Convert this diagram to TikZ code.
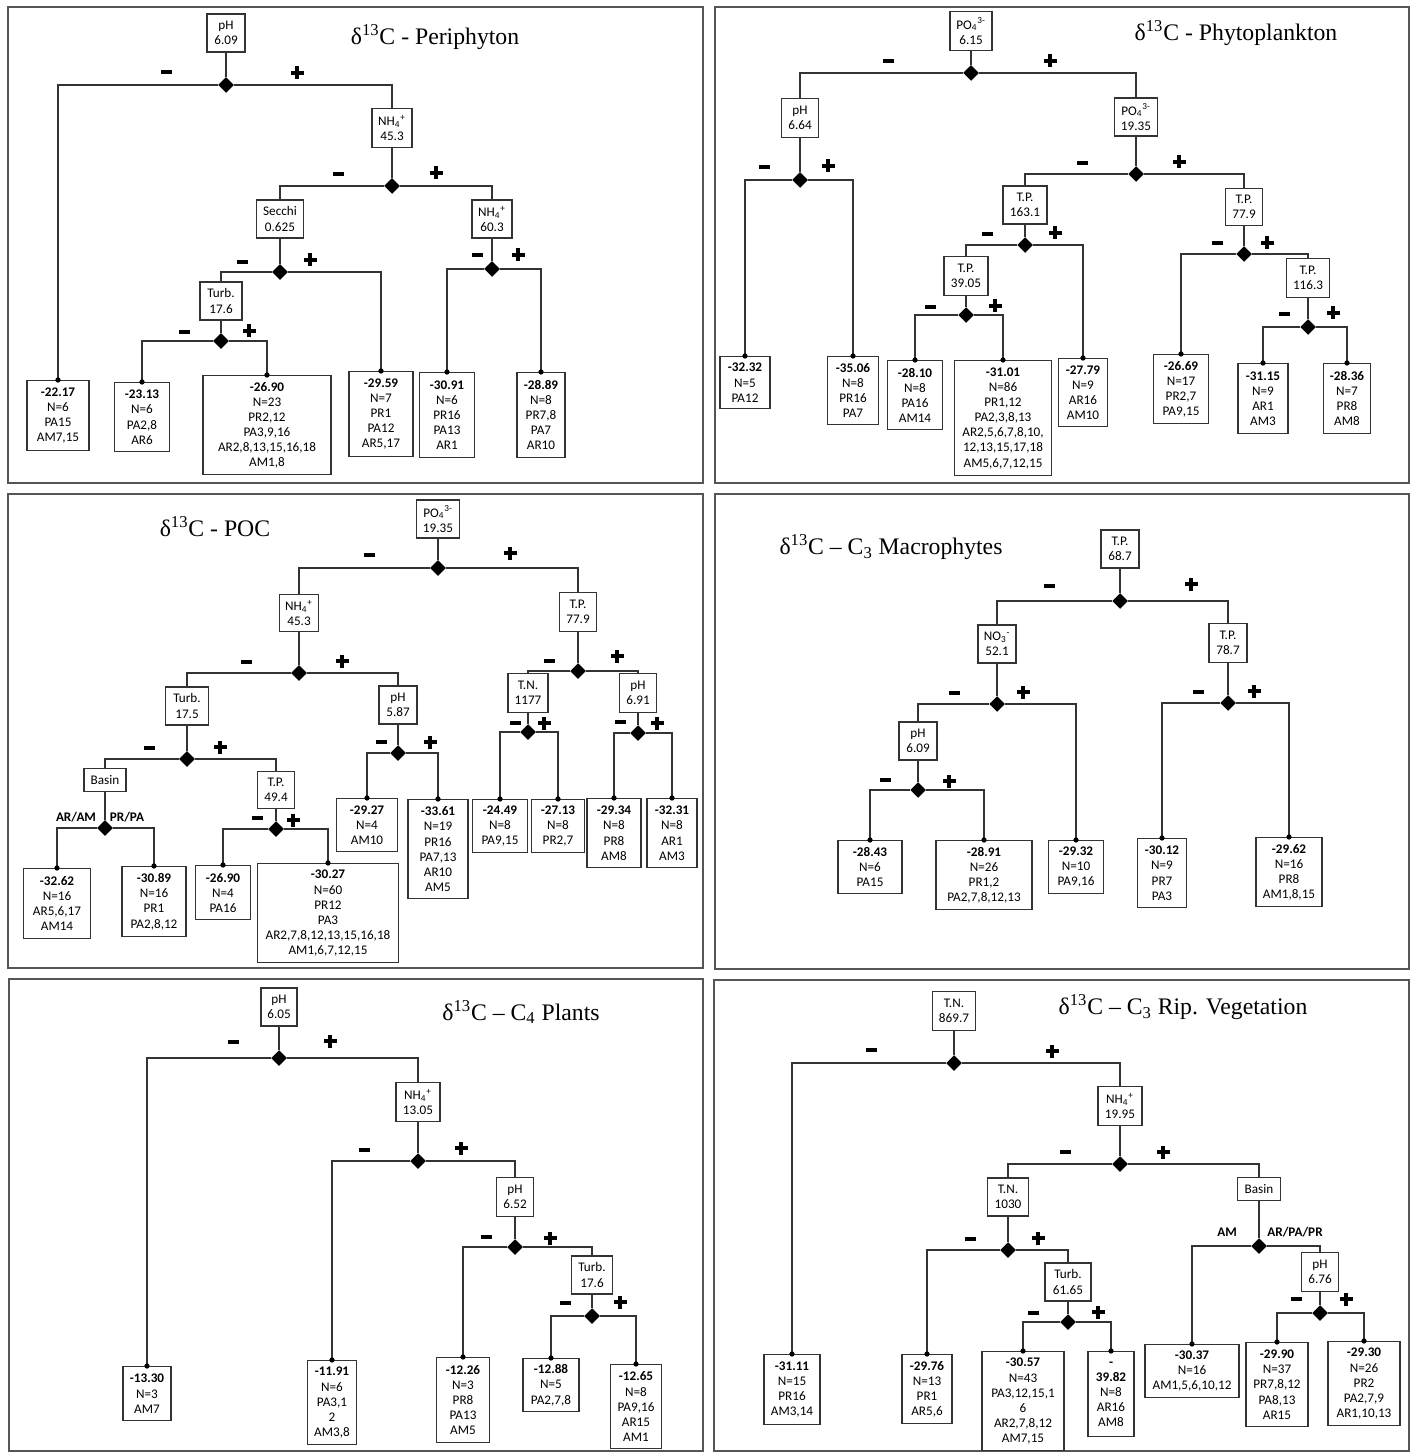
\documentclass[tikz,border=0pt]{standalone}
\usepackage{fontspec}
\setmainfont{Liberation Serif}
\newfontfamily\boxf{Carlito}
\usetikzlibrary{shapes.geometric}
\definecolor{linec}{HTML}{333333}
\definecolor{panelc}{HTML}{555555}
\tikzset{
  split/.style={draw=linec, line width=0.8pt, fill=white, align=center, inner sep=1pt,
    font=\boxf\fontsize{7.5}{8.6}\selectfont},
  leaf/.style={split, anchor=north},
  sz/.style 2 args={minimum width={#1*0.02cm}, minimum height={#2*0.02cm}},
  dia/.style={diamond, fill=black, inner sep=0pt, minimum size=9pt},
  conn/.style={draw=linec, line width=0.8pt},
  ttl/.style={font=\fontsize{13.5}{16}\selectfont},
  blab/.style={font=\boxf\bfseries\fontsize{7.5}{8.6}\selectfont, inner sep=0pt},
  plussign/.pic={\fill[black] (-6.5,-2.2) rectangle (6.5,2.2); \fill[black] (-2.2,-6.5) rectangle (2.2,6.5);},
  minussign/.pic={\fill[black] (-5.5,-2.2) rectangle (5.5,2.2);}
}
\begin{document}
\begin{tikzpicture}[x=0.02cm,y=-0.02cm]
\useasboundingbox (0,0) rectangle (1414,1452);
\fill[white] (0,0) rectangle (1414,1452);
% panels
\draw[panelc, line width=0.9pt] (8,7) rectangle (703,483);
\draw[panelc, line width=0.9pt] (715,7) rectangle (1409,483);
\draw[panelc, line width=0.9pt] (8,494) rectangle (703,968);
\draw[panelc, line width=0.9pt] (715,494) rectangle (1409,969);
\draw[panelc, line width=0.9pt] (9,979) rectangle (703,1451);
\draw[panelc, line width=0.9pt] (714,980) rectangle (1409,1451);

% ================= Panel 1: Periphyton
\node[ttl] (t1) at (435,37) {δ\textsuperscript{13}C - Periphyton};
\node[split,sz={38}{38}] (p1a) at (226,33) {pH\\6.09};
\node[dia] (p1ad) at (226,85) {};
\node[leaf,sz={62}{70}] (p1l1) at (58,380) {\textbf{-22.17}\\N=6\\PA15\\AM7,15};
\node[split,sz={40}{39}] (p1b) at (392,128) {NH\textsubscript{4}\textsuperscript{+}\\45.3};
\node[dia] (p1bd) at (392,186) {};
\node[split,sz={47}{38}] (p1c) at (280,219) {Secchi\\0.625};
\node[dia] (p1cd) at (280,272) {};
\node[split,sz={42}{38}] (p1e) at (221,301) {Turb.\\17.6};
\node[dia] (p1ed) at (221,341) {};
\node[leaf,sz={55}{69}] (p1l2) at (142,382) {\textbf{-23.13}\\N=6\\PA2,8\\AR6};
\node[leaf,sz={128}{99}] (p1l3) at (267,375) {\textbf{-26.90}\\N=23\\PR2,12\\PA3,9,16\\AR2,8,13,15,16,18\\AM1,8};
\node[leaf,sz={64}{85}] (p1l4) at (381,371) {\textbf{-29.59}\\N=7\\PR1\\PA12\\AR5,17};
\node[split,sz={40}{38}] (p1f) at (492,219) {NH\textsubscript{4}\textsuperscript{+}\\60.3};
\node[dia] (p1fd) at (492,269) {};
\node[leaf,sz={55}{85}] (p1l5) at (447,372) {\textbf{-30.91}\\N=6\\PR16\\PA13\\AR1};
\node[leaf,sz={48}{85}] (p1l6) at (541,372) {\textbf{-28.89}\\N=8\\PR7,8\\PA7\\AR10};
\draw[conn] (p1a)--(p1ad); \draw[conn] (p1ad) -| (p1l1.north); \draw[conn] (p1ad) -| (p1b.north);
\draw[conn] (p1b)--(p1bd); \draw[conn] (p1bd) -| (p1c.north); \draw[conn] (p1bd) -| (p1f.north);
\draw[conn] (p1c)--(p1cd); \draw[conn] (p1cd) -| (p1e.north); \draw[conn] (p1cd) -| (p1l4.north);
\draw[conn] (p1e)--(p1ed); \draw[conn] (p1ed) -| (p1l2.north); \draw[conn] (p1ed) -| (p1l3.north);
\draw[conn] (p1f)--(p1fd); \draw[conn] (p1fd) -| (p1l5.north); \draw[conn] (p1fd) -| (p1l6.north);
\pic at (166,72) {minussign}; \pic at (297,73) {plussign};
\pic at (338,174) {minussign}; \pic at (436,173) {plussign};
\pic at (242,262) {minussign}; \pic at (310,260) {plussign};
\pic at (184,332) {minussign}; \pic at (249,331) {plussign};
\pic at (477,255) {minussign}; \pic at (518,255) {plussign};

% ================= Panel 2: Phytoplankton
\node[ttl] (t2) at (1236,33) {δ\textsuperscript{13}C - Phytoplankton};
\node[split,sz={42}{39}] (p2a) at (971,31) {PO\textsubscript{4}\textsuperscript{3-}\\6.15};
\node[dia] (p2ad) at (971,73) {};
\node[split,sz={37}{39}] (p2b) at (800,118) {pH\\6.64};
\node[dia] (p2bd) at (800,180) {};
\node[leaf,sz={50}{52}] (p2l1) at (745,356) {\textbf{-32.32}\\N=5\\PA12};
\node[leaf,sz={51}{68}] (p2l2) at (853,356) {\textbf{-35.06}\\N=8\\PR16\\PA7};
\node[split,sz={43}{38}] (p2c) at (1136,117) {PO\textsubscript{4}\textsuperscript{3-}\\19.35};
\node[dia] (p2cd) at (1136,174) {};
\node[split,sz={44}{38}] (p2e) at (1025,205) {T.P.\\163.1};
\node[dia] (p2ed) at (1025,245) {};
\node[split,sz={44}{39}] (p2f) at (966,276) {T.P.\\39.05};
\node[dia] (p2fd) at (966,315) {};
\node[leaf,sz={55}{69}] (p2l3) at (915,360) {\textbf{-28.10}\\N=8\\PA16\\AM14};
\node[leaf,sz={97}{115}] (p2l4) at (1003,360) {\textbf{-31.01}\\N=86\\PR1,12\\PA2,3,8,13\\AR2,5,6,7,8,10,\\12,13,15,17,18\\AM5,6,7,12,15};
\node[leaf,sz={49}{68}] (p2l5) at (1083,358) {\textbf{-27.79}\\N=9\\AR16\\AM10};
\node[split,sz={37}{37}] (p2g) at (1244,207) {T.P.\\77.9};
\node[dia] (p2gd) at (1244,254) {};
\node[leaf,sz={55}{69}] (p2l6) at (1181,354) {\textbf{-26.69}\\N=17\\PR2,7\\PA9,15};
\node[split,sz={43}{39}] (p2h) at (1308,278) {T.P.\\116.3};
\node[dia] (p2hd) at (1308,327) {};
\node[leaf,sz={50}{70}] (p2l7) at (1263,363) {\textbf{-31.15}\\N=9\\AR1\\AM3};
\node[leaf,sz={47}{70}] (p2l8) at (1347,363) {\textbf{-28.36}\\N=7\\PR8\\AM8};
\draw[conn] (p2a)--(p2ad); \draw[conn] (p2ad) -| (p2b.north); \draw[conn] (p2ad) -| (p2c.north);
\draw[conn] (p2b)--(p2bd); \draw[conn] (p2bd) -| (p2l1.north); \draw[conn] (p2bd) -| (p2l2.north);
\draw[conn] (p2c)--(p2cd); \draw[conn] (p2cd) -| (p2e.north); \draw[conn] (p2cd) -| (p2g.north);
\draw[conn] (p2e)--(p2ed); \draw[conn] (p2ed) -| (p2f.north); \draw[conn] (p2ed) -| (p2l5.north);
\draw[conn] (p2f)--(p2fd); \draw[conn] (p2fd) -| (p2l3.north); \draw[conn] (p2fd) -| (p2l4.north);
\draw[conn] (p2g)--(p2gd); \draw[conn] (p2gd) -| (p2l6.north); \draw[conn] (p2gd) -| (p2h.north);
\draw[conn] (p2h)--(p2hd); \draw[conn] (p2hd) -| (p2l7.north); \draw[conn] (p2hd) -| (p2l8.north);
\pic at (888,61) {minussign}; \pic at (1050,61) {plussign};
\pic at (764,167) {minussign}; \pic at (828,166) {plussign};
\pic at (1082,163) {minussign}; \pic at (1179,162) {plussign};
\pic at (987,234) {minussign}; \pic at (1055,233) {plussign};
\pic at (930,307) {minussign}; \pic at (995,306) {plussign};
\pic at (1217,243) {minussign}; \pic at (1267,243) {plussign};
\pic at (1284,314) {minussign}; \pic at (1333,313) {plussign};

% ================= Panel 3: POC
\node[ttl] (t3) at (215,527) {δ\textsuperscript{13}C - POC};
\node[split,sz={43}{38}] (p3a) at (438,519) {PO\textsubscript{4}\textsuperscript{3-}\\19.35};
\node[dia] (p3ad) at (438,568) {};
\node[split,sz={39}{37}] (p3b) at (299,613) {NH\textsubscript{4}\textsuperscript{+}\\45.3};
\node[dia] (p3bd) at (299,673) {};
\node[split,sz={43}{38}] (p3c) at (187,706) {Turb.\\17.5};
\node[dia] (p3cd) at (187,759) {};
\node[split,sz={42}{23}] (p3e) at (105,780) {Basin};
\node[dia] (p3ed) at (105,828) {};
\node[leaf,sz={67}{70}] (p3l1) at (57,868) {\textbf{-32.62}\\N=16\\AR5,6,17\\AM14};
\node[leaf,sz={64}{70}] (p3l2) at (154,866) {\textbf{-30.89}\\N=16\\PR1\\PA2,8,12};
\node[split,sz={37}{37}] (p3f) at (276,790) {T.P.\\49.4};
\node[dia] (p3fd) at (276,829) {};
\node[leaf,sz={55}{54}] (p3l3) at (223,865) {\textbf{-26.90}\\N=4\\PA16};
\node[leaf,sz={141}{99}] (p3l4) at (328,863) {\textbf{-30.27}\\N=60\\PR12\\PA3\\AR2,7,8,12,13,15,16,18\\AM1,6,7,12,15};
\node[split,sz={38}{38}] (p3g) at (398,705) {pH\\5.87};
\node[dia] (p3gd) at (398,753) {};
\node[leaf,sz={61}{53}] (p3l5) at (367,798) {\textbf{-29.27}\\N=4\\AM10};
\node[leaf,sz={60}{99}] (p3l6) at (438,799) {\textbf{-33.61}\\N=19\\PR16\\PA7,13\\AR10\\AM5};
\node[split,sz={37}{39}] (p3h) at (578,612) {T.P.\\77.9};
\node[dia] (p3hd) at (578,671) {};
\node[split,sz={40}{39}] (p3i) at (528,693) {T.N.\\1177};
\node[dia] (p3id) at (528,732) {};
\node[leaf,sz={55}{53}] (p3l7) at (500,799) {\textbf{-24.49}\\N=8\\PA9,15};
\node[leaf,sz={53}{53}] (p3l8) at (558,799) {\textbf{-27.13}\\N=8\\PR2,7};
\node[split,sz={37}{39}] (p3j) at (638,693) {pH\\6.91};
\node[dia] (p3jd) at (638,733) {};
\node[leaf,sz={54}{69}] (p3l9) at (614,798) {\textbf{-29.34}\\N=8\\PR8\\AM8};
\node[leaf,sz={50}{69}] (p3l10) at (672,798) {\textbf{-32.31}\\N=8\\AR1\\AM3};
\draw[conn] (p3a)--(p3ad); \draw[conn] (p3ad) -| (p3b.north); \draw[conn] (p3ad) -| (p3h.north);
\draw[conn] (p3b)--(p3bd); \draw[conn] (p3bd) -| (p3c.north); \draw[conn] (p3bd) -| (p3g.north);
\draw[conn] (p3c)--(p3cd); \draw[conn] (p3cd) -| (p3e.north); \draw[conn] (p3cd) -| (p3f.north);
\draw[conn] (p3e)--(p3ed); \draw[conn] (p3ed) -| (p3l1.north); \draw[conn] (p3ed) -| (p3l2.north);
\draw[conn] (p3f)--(p3fd); \draw[conn] (p3fd) -| (p3l3.north); \draw[conn] (p3fd) -| (p3l4.north);
\draw[conn] (p3g)--(p3gd); \draw[conn] (p3gd) -| (p3l5.north); \draw[conn] (p3gd) -| (p3l6.north);
\draw[conn] (p3h)--(p3hd); \draw[conn] (p3hd) -| (p3i.north); \draw[conn] (p3hd) -| (p3j.north);
\draw[conn] (p3i)--(p3id); \draw[conn] (p3id) -| (p3l7.north); \draw[conn] (p3id) -| (p3l8.north);
\draw[conn] (p3j)--(p3jd); \draw[conn] (p3jd) -| (p3l9.north); \draw[conn] (p3jd) -| (p3l10.north);
\node[blab] (p3s1) at (76,817) {AR/AM};
\node[blab] (p3s2) at (127,817) {PR/PA};
\pic at (369,555) {minussign}; \pic at (510,553) {plussign};
\pic at (246,662) {minussign}; \pic at (342,661) {plussign};
\pic at (149,748) {minussign}; \pic at (220,747) {plussign};
\pic at (257,818) {minussign}; \pic at (293,820) {plussign};
\pic at (381,742) {minussign}; \pic at (430,742) {plussign};
\pic at (549,661) {minussign}; \pic at (617,656) {plussign};
\pic at (515,723) {minussign}; \pic at (544,723) {plussign};
\pic at (620,722) {minussign}; \pic at (657,723) {plussign};

% ================= Panel 4: C3 Macrophytes
\node[ttl] (t4) at (891,547) {δ\textsuperscript{13}C \textendash{} C\textsubscript{3} Macrophytes};
\node[split,sz={38}{38}] (p4a) at (1120,549) {T.P.\\68.7};
\node[dia] (p4ad) at (1120,601) {};
\node[split,sz={38}{38}] (p4b) at (997,644) {NO\textsubscript{3}\textsuperscript{-}\\52.1};
\node[dia] (p4bd) at (997,704) {};
\node[split,sz={38}{38}] (p4c) at (918,741) {pH\\6.09};
\node[dia] (p4cd) at (918,790) {};
\node[leaf,sz={64}{53}] (p4l1) at (870,840) {\textbf{-28.43}\\N=6\\PA15};
\node[leaf,sz={96}{69}] (p4l2) at (984,840) {\textbf{-28.91}\\N=26\\PR1,2\\PA2,7,8,12,13};
\node[leaf,sz={55}{53}] (p4l3) at (1076,840) {\textbf{-29.32}\\N=10\\PA9,16};
\node[split,sz={38}{39}] (p4e) at (1228,643) {T.P.\\78.7};
\node[dia] (p4ed) at (1228,703) {};
\node[leaf,sz={49}{69}] (p4l4) at (1162,838) {\textbf{-30.12}\\N=9\\PR7\\PA3};
\node[leaf,sz={66}{69}] (p4l5) at (1289,837) {\textbf{-29.62}\\N=16\\PR8\\AM1,8,15};
\draw[conn] (p4a)--(p4ad); \draw[conn] (p4ad) -| (p4b.north); \draw[conn] (p4ad) -| (p4e.north);
\draw[conn] (p4b)--(p4bd); \draw[conn] (p4bd) -| (p4c.north); \draw[conn] (p4bd) -| (p4l3.north);
\draw[conn] (p4c)--(p4cd); \draw[conn] (p4cd) -| (p4l1.north); \draw[conn] (p4cd) -| (p4l2.north);
\draw[conn] (p4e)--(p4ed); \draw[conn] (p4ed) -| (p4l4.north); \draw[conn] (p4ed) -| (p4l5.north);
\pic at (1049,586) {minussign}; \pic at (1191,584) {plussign};
\pic at (954,693) {minussign}; \pic at (1023,692) {plussign};
\pic at (885,780) {minussign}; \pic at (949,781) {plussign};
\pic at (1198,692) {minussign}; \pic at (1254,691) {plussign};

% ================= Panel 5: C4 Plants
\node[ttl] (t5) at (521,1012) {δ\textsuperscript{13}C \textendash{} C\textsubscript{4} Plants};
\node[split,sz={36}{38}] (p5a) at (279,1007) {pH\\6.05};
\node[dia] (p5ad) at (279,1058) {};
\node[leaf,sz={48}{54}] (p5l1) at (147,1366) {\textbf{-13.30}\\N=3\\AM7};
\node[split,sz={44}{39}] (p5b) at (418,1102) {NH\textsubscript{4}\textsuperscript{+}\\13.05};
\node[dia] (p5bd) at (418,1161) {};
\node[leaf,sz={49}{84}] (p5l2) at (332,1360) {\textbf{-11.91}\\N=6\\PA3,1\\2\\AM3,8};
\node[split,sz={37}{39}] (p5c) at (515,1197) {pH\\6.52};
\node[dia] (p5cd) at (515,1247) {};
\node[leaf,sz={53}{85}] (p5l3) at (463,1357) {\textbf{-12.26}\\N=3\\PR8\\PA13\\AM5};
\node[split,sz={41}{38}] (p5e) at (592,1275) {Turb.\\17.6};
\node[dia] (p5ed) at (592,1316) {};
\node[leaf,sz={56}{53}] (p5l4) at (551,1358) {\textbf{-12.88}\\N=5\\PA2,7,8};
\node[leaf,sz={51}{84}] (p5l5) at (636,1364) {\textbf{-12.65}\\N=8\\PA9,16\\AR15\\AM1};
\draw[conn] (p5a)--(p5ad); \draw[conn] (p5ad) -| (p5l1.north); \draw[conn] (p5ad) -| (p5b.north);
\draw[conn] (p5b)--(p5bd); \draw[conn] (p5bd) -| (p5l2.north); \draw[conn] (p5bd) -| (p5c.north);
\draw[conn] (p5c)--(p5cd); \draw[conn] (p5cd) -| (p5l3.north); \draw[conn] (p5cd) -| (p5e.north);
\draw[conn] (p5e)--(p5ed); \draw[conn] (p5ed) -| (p5l4.north); \draw[conn] (p5ed) -| (p5l5.north);
\pic at (233,1042) {minussign}; \pic at (330,1041) {plussign};
\pic at (364,1150) {minussign}; \pic at (461,1148) {plussign};
\pic at (486,1237) {minussign}; \pic at (550,1238) {plussign};
\pic at (565,1303) {minussign}; \pic at (620,1302) {plussign};

% ================= Panel 6: C3 Rip. Vegetation
\node[ttl] (t6) at (1183,1007) {δ\textsuperscript{13}C \textendash{} C\textsubscript{3} Rip. Vegetation};
\node[split,sz={43}{39}] (p6a) at (954,1011) {T.N.\\869.7};
\node[dia] (p6ad) at (954,1063) {};
\node[leaf,sz={56}{70}] (p6l1) at (792,1354) {\textbf{-31.11}\\N=15\\PR16\\AM3,14};
\node[split,sz={44}{39}] (p6b) at (1120,1106) {NH\textsubscript{4}\textsuperscript{+}\\19.95};
\node[dia] (p6bd) at (1120,1164) {};
\node[split,sz={41}{38}] (p6c) at (1008,1197) {T.N.\\1030};
\node[dia] (p6cd) at (1008,1250) {};
\node[leaf,sz={50}{69}] (p6l2) at (927,1354) {\textbf{-29.76}\\N=13\\PR1\\AR5,6};
\node[split,sz={46}{38}] (p6e) at (1068,1282) {Turb.\\61.65};
\node[dia] (p6ed) at (1068,1322) {};
\node[leaf,sz={82}{99}] (p6l3) at (1023,1351) {\textbf{-30.57}\\N=43\\PA3,12,15,1\\6\\AR2,7,8,12\\AM7,15};
\node[leaf,sz={46}{85}] (p6l4) at (1111,1351) {\textbf{-}\\\textbf{39.82}\\N=8\\AR16\\AM8};
\node[split,sz={43}{23}] (p6f) at (1259,1189) {Basin};
\node[dia] (p6fd) at (1259,1246) {};
\node[leaf,sz={94}{53}] (p6l5) at (1192,1344) {\textbf{-30.37}\\N=16\\AM1,5,6,10,12};
\node[split,sz={37}{39}] (p6g) at (1320,1272) {pH\\6.76};
\node[dia] (p6gd) at (1320,1313) {};
\node[leaf,sz={62}{84}] (p6l6) at (1277,1342) {\textbf{-29.90}\\N=37\\PR7,8,12\\PA8,13\\AR15};
\node[leaf,sz={72}{84}] (p6l7) at (1364,1341) {\textbf{-29.30}\\N=26\\PR2\\PA2,7,9\\AR1,10,13};
\draw[conn] (p6a)--(p6ad); \draw[conn] (p6ad) -| (p6l1.north); \draw[conn] (p6ad) -| (p6b.north);
\draw[conn] (p6b)--(p6bd); \draw[conn] (p6bd) -| (p6c.north); \draw[conn] (p6bd) -| (p6f.north);
\draw[conn] (p6c)--(p6cd); \draw[conn] (p6cd) -| (p6l2.north); \draw[conn] (p6cd) -| (p6e.north);
\draw[conn] (p6e)--(p6ed); \draw[conn] (p6ed) -| (p6l3.north); \draw[conn] (p6ed) -| (p6l4.north);
\draw[conn] (p6f)--(p6fd); \draw[conn] (p6fd) -| (p6l5.north); \draw[conn] (p6fd) -| (p6g.north);
\draw[conn] (p6g)--(p6gd); \draw[conn] (p6gd) -| (p6l6.north); \draw[conn] (p6gd) -| (p6l7.north);
\node[blab] (p6s1) at (1227,1232) {AM};
\node[blab] (p6s2) at (1295,1232) {AR/PA/PR};
\pic at (871,1050) {minussign}; \pic at (1052,1051) {plussign};
\pic at (1065,1152) {minussign}; \pic at (1163,1152) {plussign};
\pic at (970,1239) {minussign}; \pic at (1038,1238) {plussign};
\pic at (1033,1313) {minussign}; \pic at (1098,1312) {plussign};
\pic at (1296,1299) {minussign}; \pic at (1346,1299) {plussign};

% leaf dots
\foreach \n in {p1l1,p1l2,p1l3,p1l4,p1l5,p1l6,
  p2l1,p2l2,p2l3,p2l4,p2l5,p2l6,p2l7,p2l8,
  p3l1,p3l2,p3l3,p3l4,p3l5,p3l6,p3l7,p3l8,p3l9,p3l10,
  p4l1,p4l2,p4l3,p4l4,p4l5,
  p5l1,p5l2,p5l3,p5l4,p5l5,
  p6l1,p6l2,p6l3,p6l4,p6l5,p6l6,p6l7}
  \fill[black] (\n.north) circle[radius=1.5pt];
\end{tikzpicture}
\end{document}
